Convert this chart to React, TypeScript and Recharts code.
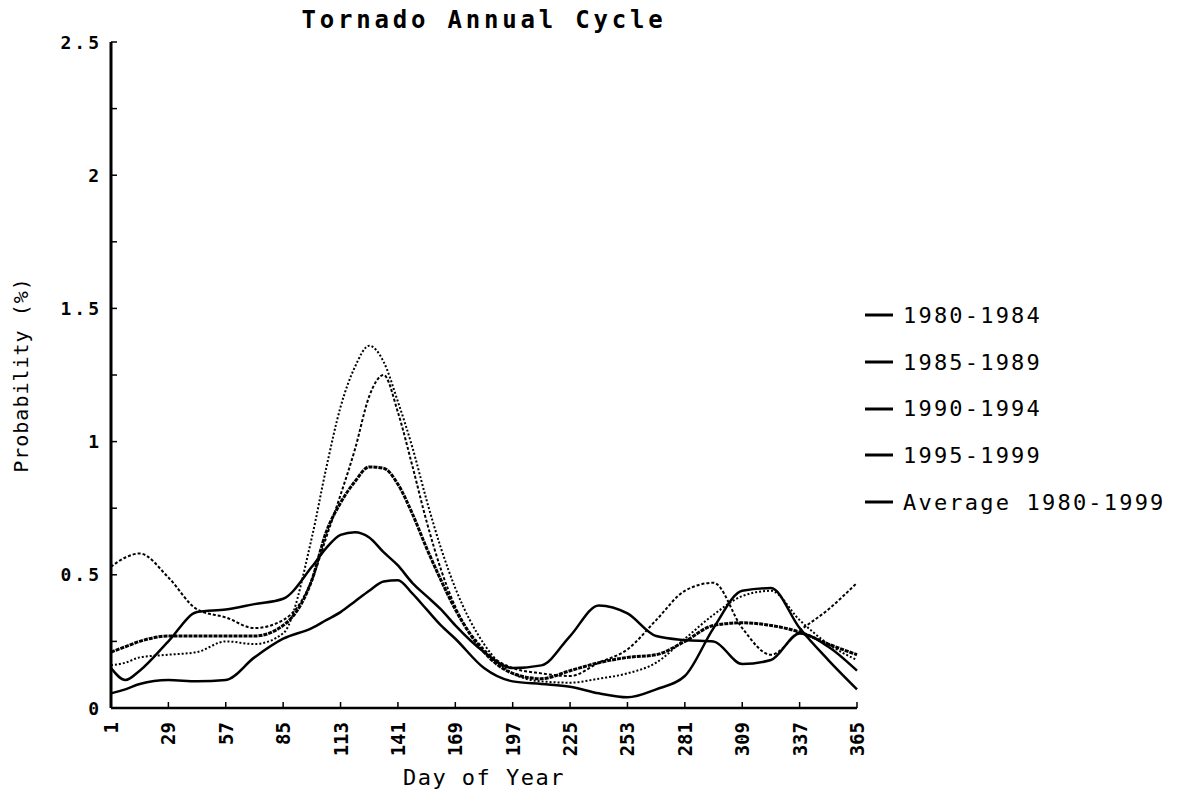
import React from "react";
import {
  LineChart,
  Line,
  XAxis,
  YAxis,
  Legend,
} from "recharts";

// Day of year for each sample
const DAYS = [
  1, 8, 15, 29, 43, 57, 71, 85, 99, 106, 113, 120, 127, 134, 141, 148, 155,
  162, 169, 183, 197, 211, 225, 239, 253, 267, 281, 295, 309, 323, 337, 351, 365,
];

// Probability (%) per day
const P_1980_1984 = [
  0.055, 0.07, 0.09, 0.105, 0.1, 0.105, 0.19, 0.26, 0.3, 0.33, 0.36, 0.4, 0.44,
  0.475, 0.48, 0.43, 0.37, 0.31, 0.26, 0.15, 0.1, 0.09, 0.08, 0.055, 0.04, 0.07,
  0.12, 0.3, 0.44, 0.45, 0.3, 0.18, 0.07,
];
const P_1985_1989 = [
  0.15, 0.105, 0.14, 0.25, 0.36, 0.37, 0.39, 0.41, 0.53, 0.6, 0.65, 0.66, 0.64,
  0.585, 0.535, 0.47, 0.42, 0.37, 0.31, 0.21, 0.15, 0.16, 0.27, 0.385, 0.355,
  0.27, 0.255, 0.25, 0.165, 0.18, 0.28, 0.23, 0.14,
];
const P_1990_1994 = [
  0.53, 0.565, 0.58, 0.49, 0.37, 0.34, 0.3, 0.33, 0.48, 0.64, 0.8, 0.97, 1.17,
  1.25, 1.11, 0.91, 0.7, 0.52, 0.38, 0.22, 0.15, 0.13, 0.12, 0.17, 0.22, 0.33,
  0.44, 0.47, 0.3, 0.2, 0.29, 0.37, 0.47,
];
const P_1995_1999 = [
  0.16, 0.17, 0.19, 0.2, 0.21, 0.25, 0.24, 0.28, 0.64, 0.9, 1.13, 1.28, 1.36,
  1.3, 1.15, 0.98, 0.78, 0.6, 0.45, 0.24, 0.13, 0.1, 0.095, 0.11, 0.13, 0.17,
  0.26, 0.35, 0.42, 0.44, 0.33, 0.24, 0.18,
];
const P_AVERAGE = [
  0.21, 0.23, 0.25, 0.27, 0.27, 0.27, 0.27, 0.31, 0.48, 0.66, 0.77, 0.85, 0.905,
  0.9, 0.84, 0.73, 0.6, 0.48, 0.37, 0.21, 0.13, 0.11, 0.14, 0.17, 0.19, 0.2,
  0.25, 0.31, 0.32, 0.31, 0.285, 0.24, 0.2,
];

const X_TICKS = [1, 29, 57, 85, 113, 141, 169, 197, 225, 253, 281, 309, 337, 365];
const Y_TICKS = [0, 0.25, 0.5, 0.75, 1, 1.25, 1.5, 1.75, 2, 2.25, 2.5];

const SERIES = [
  { key: "p8084", name: "1980-1984", values: P_1980_1984, dash: undefined, width: 2.5 },
  { key: "p8589", name: "1985-1989", values: P_1985_1989, dash: undefined, width: 2.5 },
  { key: "p9094", name: "1990-1994", values: P_1990_1994, dash: "3 2", width: 2 },
  { key: "p9599", name: "1995-1999", values: P_1995_1999, dash: "2 2", width: 2 },
  { key: "avg", name: "Average 1980-1999", values: P_AVERAGE, dash: "4 1", width: 3 },
];

const MONO = "'DejaVu Sans Mono', 'Liberation Mono', monospace";

const chartData = DAYS.map((day, i) => {
  const row: Record<string, number> = { day };
  for (const s of SERIES) row[s.key] = s.values[i];
  return row;
});

function XTick(props: any) {
  const { x, y, payload } = props;
  return (
    <g transform={`translate(${x},${y})`}>
      <line x1={0} y1={-14} x2={0} y2={-20} stroke="#000" strokeWidth={1.5} />
      <text
        transform="rotate(-90)"
        textAnchor="end"
        dominantBaseline="central"
        fontFamily={MONO}
        fontWeight="bold"
        fontSize={19}
        fill="#000"
      >
        {payload.value}
      </text>
    </g>
  );
}

function YTick(props: any) {
  const { x, y, payload } = props;
  const v = Number(payload.value);
  const showLabel = Math.abs(v * 2 - Math.round(v * 2)) < 1e-9;
  return (
    <g transform={`translate(${x},${y})`}>
      <line x1={9} y1={0} x2={15} y2={0} stroke="#000" strokeWidth={1.5} />
      {showLabel && (
        <text
          textAnchor="end"
          dominantBaseline="central"
          fontFamily={MONO}
          fontWeight="bold"
          fontSize={18}
          letterSpacing={3}
          fill="#000"
        >
          {String(v)}
        </text>
      )}
    </g>
  );
}

function LegendContent() {
  return (
    <div style={{ width: 300, fontFamily: MONO }}>
      {SERIES.map((s) => (
        <div
          key={s.key}
          style={{
            display: "flex",
            alignItems: "center",
            height: 46.7,
            whiteSpace: "nowrap",
          }}
        >
          <svg width={36} height={6} style={{ marginLeft: 8, marginRight: 2, flexShrink: 0 }}>
            <line x1={0} y1={3} x2={28} y2={3} stroke="#000" strokeWidth={3} />
          </svg>
          <span style={{ fontSize: 22, letterSpacing: 2.2, color: "#000" }}>
            {s.name}
          </span>
        </div>
      ))}
    </div>
  );
}

export default function App() {
  return (
    <div style={{ position: "relative", width: 1161, height: 784 }}>
      <div
        style={{
          position: "absolute",
          left: 103,
          width: 746,
          top: 0,
          textAlign: "center",
          fontFamily: MONO,
          fontWeight: "bold",
          fontSize: 24,
          lineHeight: "24px",
          letterSpacing: 3.8,
          color: "#000",
        }}
      >
        Tornado Annual Cycle
      </div>
      <LineChart
        width={1161}
        height={784}
        data={chartData}
        margin={{ top: 34, right: 12, left: 0, bottom: 0 }}
      >
        <XAxis
          dataKey="day"
          type="number"
          domain={[1, 365]}
          ticks={X_TICKS}
          interval={0}
          height={84}
          tickSize={0}
          tickMargin={14}
          tick={<XTick />}
          axisLine={{ stroke: "#000", strokeWidth: 2.5 }}
          label={{
            value: "Day of Year",
            position: "insideBottom",
            offset: 7,
            style: {
              fontFamily: MONO,
              fontSize: 22,
              letterSpacing: 1.5,
              fill: "#000",
            },
          }}
        />
        <YAxis
          type="number"
          domain={[0, 2.5]}
          ticks={Y_TICKS}
          interval={0}
          width={103}
          tickSize={0}
          tickMargin={9}
          tick={<YTick />}
          axisLine={{ stroke: "#000", strokeWidth: 3 }}
          label={{
            value: "Probability (%)",
            angle: -90,
            position: "insideLeft",
            offset: 13,
            style: {
              textAnchor: "middle",
              fontFamily: MONO,
              fontSize: 20,
              letterSpacing: 1,
              fill: "#000",
            },
          }}
        />
        <Legend
          layout="vertical"
          align="right"
          verticalAlign="middle"
          content={<LegendContent />}
          wrapperStyle={{ left: 849, top: 284 }}
        />
        {SERIES.map((s) => (
          <Line
            key={s.key}
            type="monotone"
            dataKey={s.key}
            name={s.name}
            stroke="#000"
            strokeWidth={s.width}
            strokeDasharray={s.dash}
            dot={false}
            activeDot={false}
            isAnimationActive={false}
          />
        ))}
      </LineChart>
    </div>
  );
}
